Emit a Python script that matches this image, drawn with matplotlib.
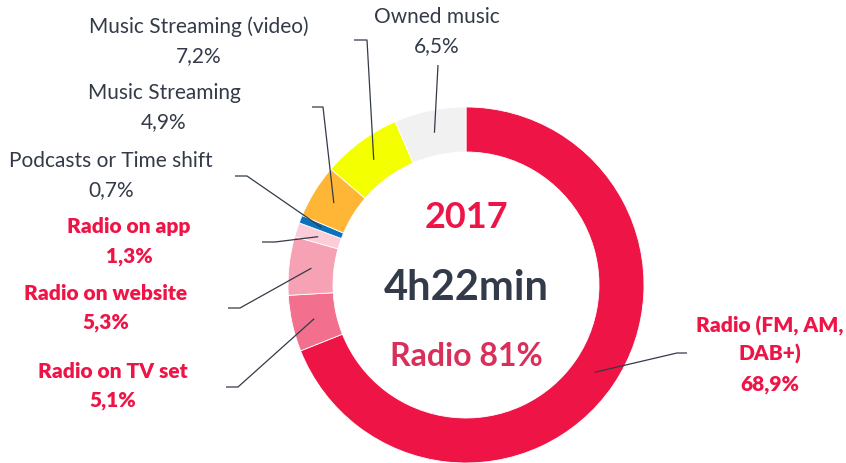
import matplotlib
matplotlib.use("Agg")
import matplotlib.pyplot as plt
import numpy as np

plt.rcParams['font.family'] = ['Lato', 'DejaVu Sans']

# ---- data ----
categories = ["Radio (FM, AM,\nDAB+)", "Radio on TV set", "Radio on website", "Radio on app",
              "Podcasts or Time shift", "Music Streaming", "Music Streaming (video)", "Owned music"]
shares = [68.9, 5.1, 5.3, 1.3, 0.7, 4.9, 7.2, 6.5]
highlight = [True, True, True, True, False, False, False, False]
colors = ["#EE1446", "#F26F8D", "#F7A1B5", "#FCCCD8", "#0A72BA", "#FFB536", "#F4FF00", "#F1F1F1"]
center_year = "2017"
center_time = "4h22min"
center_radio = "Radio 81%"

# ---- layout (pixel coords, origin top-left) ----
W, H = 846, 463
CX, CY, R, RW = 466, 285, 178, 45
label_pos = [(770, 332), (113, 378), (106, 300), (129, 233), (111, 167), (164, 99), (199, 33), (437, 23)]
elbows = [(677, 353), (238, 387), (240, 308), (275, 242), (247, 176), (323, 107), (367, 40), (438, 65)]
ends = [(687, 353), (226, 387), (228, 308), (262, 242), (235, 176), (312, 107), (354, 40), (438, 65)]
step = 29

RED = "#EE1446"
DARK = "#333A48"

def Y(py):
    return H - py

fig = plt.figure(figsize=(W / 100, H / 100), dpi=100)
ax = fig.add_axes([0, 0, 1, 1])
wedges, _ = ax.pie(shares, colors=colors, startangle=90, counterclock=False,
                   radius=R, center=(CX, Y(CY)),
                   wedgeprops=dict(width=RW, edgecolor="white", linewidth=0.6))
ax.set_xlim(0, W)
ax.set_ylim(0, H)
ax.set_aspect("equal")
ax.axis("off")

rmid = R - RW / 2
for w, cat, val, hl, lp, el, en in zip(wedges, categories, shares, highlight, label_pos, elbows, ends):
    th = np.deg2rad((w.theta1 + w.theta2) / 2)
    sx = CX + rmid * np.cos(th)
    sy = Y(CY) + rmid * np.sin(th)
    ax.plot([sx, el[0], en[0]], [sy, Y(el[1]), Y(en[1])], color=DARK, lw=0.9,
            solid_capstyle="butt", zorder=5)
    lines = cat.split("\n") + [f"{val:.1f}".replace(".", ",") + "%"]
    col = RED if hl else DARK
    wt = "heavy" if hl else "normal"
    for i, t in enumerate(lines):
        ax.text(lp[0], Y(lp[1] + i * step), t, ha="center", va="baseline",
                fontsize=15, color=col, fontweight=wt)

ax.text(CX, Y(228), center_year, ha="center", va="baseline", fontsize=26,
        color=RED, fontweight="bold")
ax.text(CX, Y(300), center_time, ha="center", va="baseline", fontsize=30,
        color="#333A4A", fontweight="bold")
ax.text(CX, Y(366), center_radio, ha="center", va="baseline", fontsize=23,
        color="#D8305A", fontweight="bold")

fig.savefig("out.png", dpi=100)
